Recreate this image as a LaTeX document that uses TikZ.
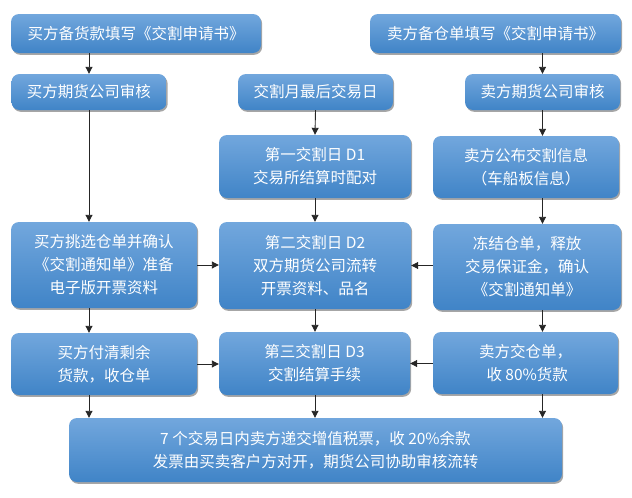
\documentclass[tikz,border=0pt]{standalone}
\usepackage{fontspec}
\setmainfont{Noto Sans CJK SC}
\usetikzlibrary{arrows.meta,shadows}
\definecolor{boxtop}{RGB}{114,167,221}
\definecolor{boxmid}{RGB}{84,152,219}
\definecolor{boxbot}{RGB}{64,132,199}
\begin{document}
\begin{tikzpicture}[x=1pt, y=-1pt,
    box/.style={rounded corners=8pt, top color=boxtop, middle color=boxmid, bottom color=boxbot,
      draw=none, text=white, align=center, inner sep=0pt,
      font=\fontsize{15.5}{23}\selectfont,
      drop shadow={shadow xshift=1.2pt, shadow yshift=-1.8pt, opacity=0.35, fill=black}},
    flow/.style={-{Triangle[length=7pt, width=7pt]}, line width=0.9pt, black!85}]
      \useasboundingbox (0, 0) rectangle (632, 498);

      \node [box, minimum width=250pt, minimum height=39pt] (buyfill) at (136, 33.5) {买方备货款填写《交割申请书》};
      \node [box, minimum width=251pt, minimum height=39pt] (sellfill) at (495.5, 33.5) {卖方备仓单填写《交割申请书》};

      \node [box, minimum width=155pt, minimum height=36pt] (buyreview) at (89, 92) {买方期货公司审核};
      \node [box, minimum width=155pt, minimum height=36pt] (lastday) at (315.5, 92) {交割月最后交易日};
      \node [box, minimum width=155pt, minimum height=36pt] (sellreview) at (542.5, 92) {卖方期货公司审核};

      \node [box, minimum width=192pt, minimum height=63pt] (dayone) at (315, 166.5) {第一交割日 D1\\交易所结算时配对};
      \node [box, minimum width=186pt, minimum height=62pt] (sellinfo) at (526, 167) {卖方公布交割信息\\（车船板信息）};

      \node [box, minimum width=186pt, minimum height=86pt] (buypick) at (104, 265) {买方挑选仓单并确认\\《交割通知单》准备\\电子版开票资料};
      \node [box, minimum width=192pt, minimum height=87pt] (daytwo) at (315, 265.5) {第二交割日 D2\\双方期货公司流转\\开票资料、品名};
      \node [box, minimum width=188pt, minimum height=86pt] (freeze) at (527, 267) {冻结仓单，释放\\交易保证金，确认\\《交割通知单》};

      \node [box, minimum width=186pt, minimum height=62pt] (buypay) at (104, 364) {买方付清剩余\\货款，收仓单};
      \node [box, minimum width=191pt, minimum height=63pt] (daythree) at (314.5, 363.5) {第三交割日 D3\\交割结算手续};
      \node [box, minimum width=185pt, minimum height=62pt] (selldeliver) at (525.5, 363) {卖方交仓单，\\\ 收 80\%货款};

      \node [box, minimum width=493pt, minimum height=64pt] (invoice) at (315.5, 450) {7 个交易日内卖方递交增值税票，收 20\%余款\\发票由买卖客户方对开，期货公司协助审核流转};

      \draw [flow] (buyreview.north |- buyfill.south) -- (buyreview.north);
      \draw [flow] (buyreview.south) -- (buyreview.south |- buypick.north);
      \draw [flow] (buyreview.south |- buypick.south) -- (buyreview.south |- buypay.north);
      \draw [flow] (buyreview.south |- buypay.south) -- (buyreview.south |- invoice.north);

      \draw [flow] (lastday.south) -- (dayone.north);
      \draw [flow] (dayone.south) -- (daytwo.north);
      \draw [flow] (daytwo.south) -- (daytwo.south |- daythree.north);
      \draw [flow] (daytwo.south |- daythree.south) -- (daytwo.south |- invoice.north);

      \draw [flow] (sellfill.south -| sellreview.north) -- (sellreview.north);
      \draw [flow] (sellreview.south) -- (sellreview.south |- sellinfo.north);
      \draw [flow] (sellreview.south |- sellinfo.south) -- (sellreview.south |- freeze.north);
      \draw [flow] (sellreview.south |- freeze.south) -- (sellreview.south |- selldeliver.north);
      \draw [flow] (sellreview.south |- selldeliver.south) -- (sellreview.south |- invoice.north);

      \draw [flow] (buypick.east) -- (buypick.east -| daytwo.west);
      \draw [flow] (freeze.west |- daytwo.east) -- (daytwo.east);
      \draw [flow] (buypay.east) -- (buypay.east -| daythree.west);
      \draw [flow] (selldeliver.west |- daythree.east) -- (daythree.east);
    \end{tikzpicture}
\end{document}
